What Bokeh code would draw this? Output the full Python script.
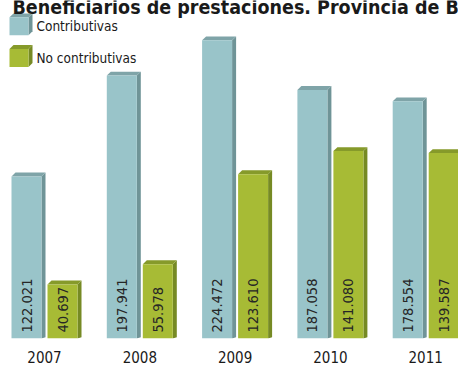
import math
from bokeh.plotting import figure
from bokeh.models import Range1d, LinearAxis, FixedTicker, Label, ColumnDataSource
from bokeh.core.properties import value
from bokeh.embed import file_html
from bokeh.resources import INLINE

# ---- data ----
years = ["2007", "2008", "2009", "2010", "2011"]
contributivas = [122021, 197941, 224472, 187058, 178554]
no_contributivas = [40697, 55978, 123610, 141080, 139587]
series_names = ["Contributivas", "No contributivas"]
title_text = "Beneficiarios de prestaciones. Provincia de Buenos Aires"

# ---- styles ----
FONT = "DejaVu Sans Condensed, Liberation Sans Narrow, Roboto, sans-serif"
front_cols = ["#99c4c9", "#a7bb35"]
top_cols = ["#7fa4a8", "#869a2a"]
side_cols = ["#6f9497", "#768a24"]

W, H = 458, 365
AX_H = 24
PX_PER_GROUP = 95.3
GROUP0_PX = 44.0
PX_PER_UNIT = 0.00134
FRAME_H = H - AX_H

def xs(px):
    return (px - GROUP0_PX) / PX_PER_GROUP

def ys(py):
    return (FRAME_H - py) / PX_PER_UNIT

p = figure(width=W, height=H, output_backend="svg", toolbar_location=None,
           x_range=Range1d(xs(0), xs(W)), y_range=Range1d(0, ys(0)),
           min_border_left=0, min_border_right=0, min_border_top=0, min_border_bottom=0,
           x_axis_location=None, y_axis_location=None)
p.outline_line_color = None
p.xgrid.visible = False
p.ygrid.visible = False
p.background_fill_color = "white"
p.border_fill_color = "white"

bw = 30 / PX_PER_GROUP
off = 18 / PX_PER_GROUP
dx = 4 / PX_PER_GROUP
dy = 4 / PX_PER_UNIT

def fmt(v):
    return f"{v:,}".replace(",", ".")

for k, vals in enumerate([contributivas, no_contributivas]):
    o = -off if k == 0 else off
    lefts = [i + o - bw / 2 for i in range(len(years))]
    rights = [i + o + bw / 2 for i in range(len(years))]
    side_x = [[r, r + dx, r + dx, r] for r in rights]
    side_y = [[v, v + dy, dy * 0.3, 0] for v in vals]
    p.patches(side_x, side_y, fill_color=side_cols[k], line_color=None)
    top_x = [[l, l + dx, r + dx, r] for l, r in zip(lefts, rights)]
    top_y = [[v, v + dy, v + dy, v] for v in vals]
    p.patches(top_x, top_y, fill_color=top_cols[k], line_color=None)
    p.quad(left=lefts, right=rights, bottom=0, top=vals,
           fill_color=front_cols[k], line_color=None)
    src = ColumnDataSource(dict(x=[i + o for i in range(len(years))],
                                y=[0] * len(years),
                                t=[fmt(v) for v in vals]))
    p.text(x="x", y="y", text="t", source=src, angle=math.pi / 2,
           text_align="left", text_baseline="middle", y_offset=-6,
           text_font=value(FONT), text_font_size="14.5px", text_color="#262626")

leg_y_centers = [25, 57]
for k, name in enumerate(series_names):
    cy = leg_y_centers[k]
    l, r = xs(9), xs(28)
    b, t = ys(cy + 10), ys(cy - 8)
    ldx = 4 / PX_PER_GROUP
    ldy = 4 / PX_PER_UNIT
    p.patch([r, r + ldx, r + ldx, r], [t, t + ldy, b + ldy, b],
            fill_color=side_cols[k], line_color=None)
    p.patch([l, l + ldx, r + ldx, r], [t, t + ldy, t + ldy, t],
            fill_color=top_cols[k], line_color=None)
    p.quad(left=[l], right=[r], bottom=[b], top=[t],
           fill_color=front_cols[k], line_color=None)
    p.add_layout(Label(x=xs(36), y=ys(cy + 1), text=name, text_font=FONT,
                       text_font_size="13.5px", text_baseline="middle",
                       text_color="#1a1a1a"))

p.add_layout(Label(x=xs(12), y=ys(7), text=title_text, text_font=FONT,
                   text_font_size="19.5px", text_font_style="bold",
                   text_baseline="alphabetic", text_color="#1a1a1a"))

ax = LinearAxis(ticker=FixedTicker(ticks=list(range(len(years)))),
                major_label_overrides={i: y for i, y in enumerate(years)})
ax.axis_line_color = None
ax.major_tick_line_color = None
ax.minor_tick_line_color = None
ax.major_label_text_font = FONT
ax.major_label_text_font_size = "15px"
ax.major_label_text_color = "#1a1a1a"
ax.major_label_standoff = 6
p.add_layout(ax, "below")

open("out.html", "w").write(file_html(p, INLINE))
